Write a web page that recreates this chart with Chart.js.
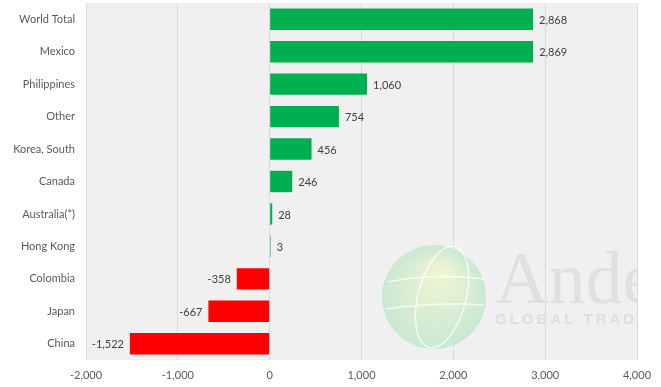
<!DOCTYPE html>
<html>
<head>
<meta charset="utf-8">
<script src="https://cdn.jsdelivr.net/npm/chart.js@4/dist/chart.umd.min.js"></script>
<style>
    html, body { margin: 0; padding: 0; background: #ffffff; }
    #chart { display: block; }
</style>
</head>
<body>
<canvas id="chart" width="661" height="387"></canvas>
<script>
const countries = ['World Total', 'Mexico', 'Philippines', 'Other', 'Korea, South', 'Canada',
    'Australia(*)', 'Hong Kong', 'Colombia', 'Japan', 'China'];
const changes = [2868, 2869, 1060, 754, 456, 246, 28, 3, -358, -667, -1522];
const xTicks = [-2000, -1000, 0, 1000, 2000, 3000, 4000];

const fmt = v => v.toLocaleString('en-US');

// grey plot background
const plotBg = {
    id: 'plotBg',
    beforeDraw(chart) {
        const { ctx, chartArea: a } = chart;
        ctx.save();
        ctx.fillStyle = '#f0f0f0';
        ctx.fillRect(a.left, a.top, a.right - a.left, a.bottom - a.top);
        ctx.restore();
    }
};

// faint logo watermark behind the bars
const watermark = {
    id: 'watermark',
    beforeDatasetsDraw(chart) {
        const { ctx, chartArea: a } = chart;
        ctx.save();
        ctx.beginPath();
        ctx.rect(a.left, a.top, a.right - a.left, a.bottom - a.top);
        ctx.clip();
        const cx = 434, cy = 297, r = 52;
        const g = ctx.createRadialGradient(cx + 8, cy - 25, 4, cx, cy, r);
        g.addColorStop(0, '#eef5d2');
        g.addColorStop(1, '#c9e8d3');
        ctx.fillStyle = g;
        ctx.beginPath();
        ctx.arc(cx, cy, r, 0, Math.PI * 2);
        ctx.fill();
        ctx.strokeStyle = 'rgba(255,255,255,0.75)';
        ctx.lineWidth = 1.5;
        ctx.beginPath();
        ctx.ellipse(cx + 8, cy, 24, r, 0.25, 0, Math.PI * 2);
        ctx.moveTo(cx - r + 6, cy - 15); ctx.quadraticCurveTo(cx, cy - 24, cx + r - 2, cy - 18);
        ctx.moveTo(cx - r + 4, cy + 12); ctx.quadraticCurveTo(cx, cy + 5, cx + r - 2, cy + 8);
        ctx.stroke();
        ctx.fillStyle = '#e0e0e0';
        ctx.font = '74px "Liberation Serif", serif';
        ctx.textBaseline = 'alphabetic';
        ctx.fillText('Ande', 495, 303);
        ctx.font = 'bold 15px "Liberation Sans", sans-serif';
        ctx.fillStyle = '#dedede';
        ctx.letterSpacing = '3px';
        ctx.fillText('GLOBAL TRADING', 495, 324);
        ctx.restore();
    }
};

// value labels at the bar ends
const valueLabels = {
    id: 'valueLabels',
    afterDatasetsDraw(chart) {
        const { ctx } = chart;
        const meta = chart.getDatasetMeta(0);
        ctx.save();
        ctx.font = '11px Lato, "Open Sans", sans-serif';
        ctx.fillStyle = '#404040';
        ctx.textBaseline = 'middle';
        meta.data.forEach((bar, i) => {
            const v = changes[i];
            if (v >= 0) {
                ctx.textAlign = 'left';
                ctx.fillText(fmt(v), bar.x + 6, bar.y + 1);
            } else {
                ctx.textAlign = 'right';
                ctx.fillText(fmt(v), bar.x - 6, bar.y + 1);
            }
        });
        ctx.restore();
    }
};

new Chart(document.getElementById('chart'), {
    type: 'bar',
    data: {
        labels: countries,
        datasets: [{
            data: changes,
            backgroundColor: changes.map(v => v >= 0 ? '#00b050' : '#ff0000'),
            borderWidth: 0,
            minBarLength: 1,
            barPercentage: 0.66,
            categoryPercentage: 1
        }]
    },
    options: {
        indexAxis: 'y',
        responsive: false,
        animation: false,
        layout: { padding: { top: 3, right: 24, bottom: 0, left: 0 } },
        plugins: {
            legend: { display: false },
            tooltip: { enabled: false }
        },
        scales: {
            x: {
                min: xTicks[0],
                max: xTicks[xTicks.length - 1],
                afterBuildTicks(scale) {
                    scale.ticks = xTicks.map(v => ({ value: v }));
                },
                afterFit(scale) { scale.height = 27; },
                grid: { color: '#d9d9d9', drawTicks: false },
                border: { display: false },
                ticks: {
                    color: '#595959',
                    font: { size: 11, family: 'Lato, "Open Sans", sans-serif' },
                    padding: 9,
                    maxRotation: 0,
                    callback: v => fmt(v)
                }
            },
            y: {
                afterFit(scale) {
                    scale.width = 86;
                    scale.paddingTop = 0;
                    scale.paddingBottom = 0;
                },
                grid: { display: false },
                border: { display: false },
                ticks: {
                    color: '#595959',
                    font: { size: 11, family: 'Lato, "Open Sans", sans-serif' },
                    padding: 3
                }
            }
        }
    },
    plugins: [plotBg, watermark, valueLabels]
});
</script>
</body>
</html>
